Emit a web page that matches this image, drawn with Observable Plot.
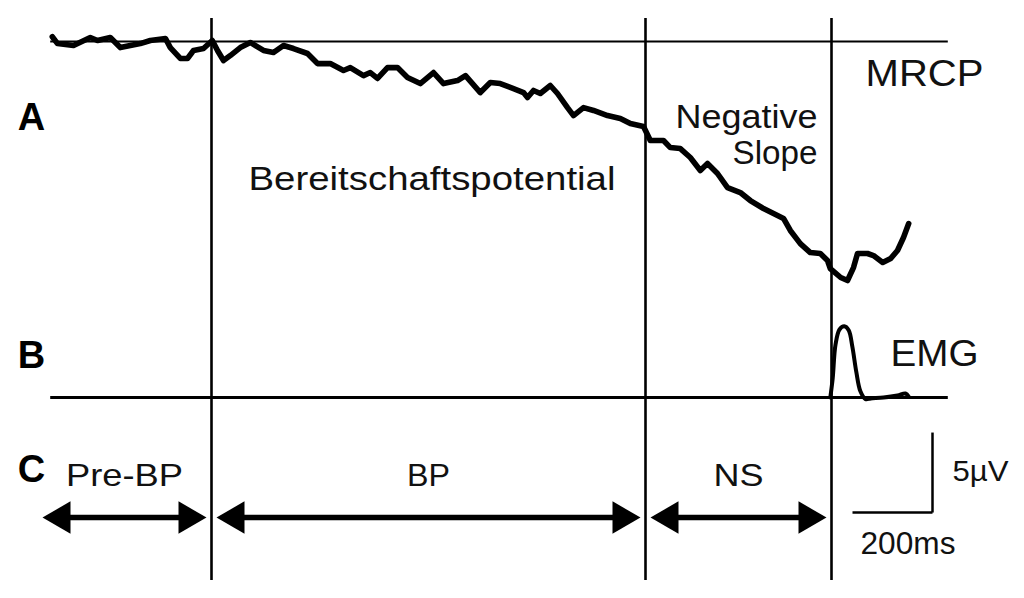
<!DOCTYPE html>
<html>
<head>
<meta charset="utf-8">
<script src="https://cdn.jsdelivr.net/npm/d3@7"></script>
<script src="https://cdn.jsdelivr.net/npm/@observablehq/plot@0.6"></script>
<style>
html, body { margin: 0; padding: 0; background: #fff; overflow: hidden; }
#chart svg { display: block; }
</style>
</head>
<body>
<div id="chart"></div>
<script>
// ---- Data (time relative to movement onset in ms, amplitude in µV) ----
const mrcpTime = [
  -1948, -1935, -1895, -1853, -1835, -1803, -1778, -1728, -1703, -1665,
  -1653, -1628, -1610, -1595, -1570, -1548, -1535, -1520, -1503, -1478,
  -1453, -1420, -1395, -1370, -1345, -1310, -1285, -1253, -1220, -1203,
  -1170, -1153, -1135, -1110, -1085, -1060, -1028, -995, -970, -935,
  -915, -878, -853, -828, -795, -770, -760, -745, -728, -703,
  -685, -660, -645, -620, -595, -560, -528, -503, -470, -453,
  -435, -420, -403, -378, -353, -328, -310, -285, -260, -228,
  -203, -170, -135, -120, -103, -78, -53, -28, -10, -3,
  23, 40, 55, 65, 90, 105, 128, 148, 165, 180, 193
];
const mrcpAmp = [
  0.3, -0.13, -0.25, 0.25, 0.06, 0.25, -0.38, -0.13, 0.06, 0.19,
  -0.38, -1.06, -1.06, -0.56, -0.44, 0.06, -0.56, -1.19, -0.88, -0.38,
  -0.06, -0.56, -0.69, -0.25, -0.44, -0.75, -1.38, -1.38, -1.81, -1.63,
  -2.13, -1.94, -2.31, -1.63, -1.63, -2.25, -2.63, -1.94, -2.63, -2.44,
  -2.13, -3.19, -2.56, -2.63, -2.94, -3.19, -3.5, -3.06, -3.25, -2.75,
  -3.25, -4.13, -4.63, -4.13, -4.31, -4.63, -4.81, -5.13, -5.31, -6.19,
  -6.19, -6.19, -6.63, -6.69, -7.25, -8.06, -7.63, -8.25, -9.13, -9.44,
  -9.94, -10.44, -10.88, -11.06, -11.81, -12.63, -13.19, -13.25, -13.69, -14.19,
  -14.75, -14.94, -14.13, -13.25, -13.25, -13.38, -13.81, -13.56, -13.06, -12.25, -11.38
];
// EMG burst (arbitrary amplitude above its own baseline)
const emgTime = [-3, 3, 10, 20, 32, 43, 52, 62, 72, 85, 98, 130, 165, 185, 193];
const emgAmp  = [0, 1.2, 3.3, 4.25, 4.45, 4.2, 3.2, 1.6, 0.4, -0.1, -0.06, 0, 0.13, 0.25, 0.06];
// Epochs
const epochNames  = ["Pre-BP", "BP", "NS"];
const epochBounds = [-1985, -1550, -465, 0];
// Scale bar
const scaleBarMs = 200;
const scaleBarUv = 5;

// ---- Tables built from the arrays ----
const mrcp = mrcpTime.map((t, i) => ({t, v: mrcpAmp[i]}));
const emg = emgTime.map((t, i) => ({t, a: emgAmp[i]}));
const epochs = epochNames.map((name, i) => ({name, start: epochBounds[i], end: epochBounds[i + 1]}));

const EMG_BASE = -22.25;      // vertical offset of the EMG trace
const ARROW_Y = -29.75;
const TIP = 12.5;             // arrow tip inset from boundary (ms)
const SHAFT = 37.5;           // shaft inset (hidden under heads)
const bar = {t: 252.5, v: -29.44};
const font = "'Liberation Sans', Arial, Helvetica, sans-serif";

const chart = Plot.plot({
  width: 1024,
  height: 598,
  margin: 0,
  x: {domain: [-2077.5, 482.5], axis: null},
  y: {domain: [-34.8125, 2.5625], axis: null},
  style: {background: "#fff", fontFamily: font, color: "#000"},
  marks: [
    Plot.ruleY([0], {x1: -1952, x2: 292, stroke: "#000", strokeWidth: 1.8}),
    Plot.ruleY([EMG_BASE], {x1: -1952, x2: 292, stroke: "#000", strokeWidth: 3.2}),
    Plot.ruleX(epochBounds.slice(1), {y1: 1.44, y2: -33.69, stroke: "#000", strokeWidth: 2.6}),
    Plot.line(mrcp, {x: "t", y: "v", stroke: "#000", strokeWidth: 5.6, strokeLinejoin: "round", strokeLinecap: "round", curve: "linear"}),
    Plot.line(emg, {x: "t", y: d => EMG_BASE + d.a, stroke: "#000", strokeWidth: 4, strokeLinejoin: "round", curve: "catmull-rom"}),
    // arrows
    Plot.link(epochs, {x1: d => d.start + SHAFT, x2: d => d.end - SHAFT, y1: ARROW_Y, y2: ARROW_Y, stroke: "#000", strokeWidth: 5.5}),
    Plot.dot(epochs, {x: d => d.start + TIP, y: ARROW_Y, symbol: "triangle", r: 12, fill: "#000", stroke: null, rotate: -90, dx: 18.67}),
    Plot.dot(epochs, {x: d => d.end - TIP, y: ARROW_Y, symbol: "triangle", r: 12, fill: "#000", stroke: null, rotate: 90, dx: -18.67}),
    Plot.text(epochs, {x: d => (d.start + d.end) / 2, y: -27.8, text: "name", fontSize: 32, lineAnchor: "bottom", fill: "#111"}),
    // scale bar
    Plot.link([{x1: bar.t - scaleBarMs, x2: bar.t, y1: bar.v, y2: bar.v}, {x1: bar.t, x2: bar.t, y1: bar.v, y2: bar.v + scaleBarUv}],
      {x1: "x1", x2: "x2", y1: "y1", y2: "y2", stroke: "#000", strokeWidth: 2.5}),
    Plot.text([`${scaleBarUv}µV`], {x: bar.t + 50, y: -27.44, text: d => d, textAnchor: "start", lineAnchor: "bottom", fontSize: 29, fill: "#111"}),
    Plot.text([`${scaleBarMs}ms`], {x: bar.t - 180, y: -32, text: d => d, textAnchor: "start", lineAnchor: "bottom", fontSize: 31, fill: "#111"}),
    // panel letters
    Plot.text(["A", "B", "C"], {x: -2000, y: [-5.56, -20.38, -27.5], text: d => d, fontSize: 38, fontWeight: "bold", lineAnchor: "bottom", fill: "#000"}),
    // annotations
    Plot.text(["MRCP"], {x: 85, y: -2.81, text: d => d, textAnchor: "start", lineAnchor: "bottom", fontSize: 36, fill: "#111"}),
    Plot.text(["Negative", "Slope"], {x: -35, y: [-5.38, -7.63], text: d => d, textAnchor: "end", lineAnchor: "bottom", fontSize: 33, fill: "#111"}),
    Plot.text(["Bereitschaftspotential"], {x: -1457.5, y: -9.31, text: d => d, textAnchor: "start", lineAnchor: "bottom", fontSize: 34, fill: "#111"}),
    Plot.text(["EMG"], {x: 147.5, y: -20.25, text: d => d, textAnchor: "start", lineAnchor: "bottom", fontSize: 36, fill: "#111"})
  ]
});

// horizontally stretched lettering as in the source figure
const widths = {"MRCP": 118, "Negative": 142, "Slope": 85, "Bereitschaftspotential": 367, "EMG": 88,
  "Pre-BP": 117, "BP": 43, "NS": 50, "5µV": 56, "200ms": 95};
d3.select(chart).selectAll("text").each(function () {
  const w = widths[this.textContent];
  if (w) { this.setAttribute("textLength", w); this.setAttribute("lengthAdjust", "spacingAndGlyphs"); }
});

document.getElementById("chart").appendChild(chart);
</script>
</body>
</html>
